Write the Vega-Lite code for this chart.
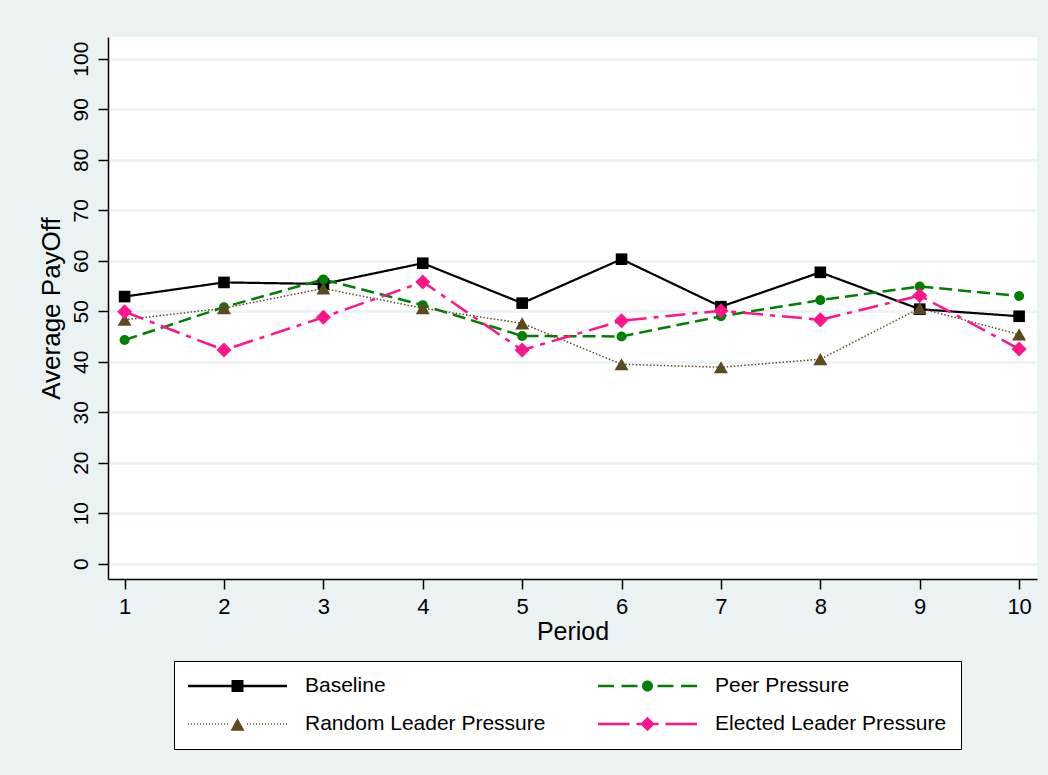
{
  "$schema": "https://vega.github.io/schema/vega-lite/v6.json",
  "width": 929,
  "height": 542,
  "autosize": {"type": "none"},
  "padding": {"left": 108, "top": 37, "right": 11, "bottom": 196},
  "background": "#eaf2f3",
  "config": {
    "font": "Liberation Sans, Arial, sans-serif",
    "view": {"fill": "white", "stroke": null}
  },
  "data": {
    "values": [
      {"period": 1, "series": "Baseline", "payoff": 52.9},
      {"period": 2, "series": "Baseline", "payoff": 55.7},
      {"period": 3, "series": "Baseline", "payoff": 55.4},
      {"period": 4, "series": "Baseline", "payoff": 59.5},
      {"period": 5, "series": "Baseline", "payoff": 51.6},
      {"period": 6, "series": "Baseline", "payoff": 60.3},
      {"period": 7, "series": "Baseline", "payoff": 50.9},
      {"period": 8, "series": "Baseline", "payoff": 57.7},
      {"period": 9, "series": "Baseline", "payoff": 50.4},
      {"period": 10, "series": "Baseline", "payoff": 49.0},
      {"period": 1, "series": "Peer Pressure", "payoff": 44.3},
      {"period": 2, "series": "Peer Pressure", "payoff": 50.8},
      {"period": 3, "series": "Peer Pressure", "payoff": 56.3},
      {"period": 4, "series": "Peer Pressure", "payoff": 51.2},
      {"period": 5, "series": "Peer Pressure", "payoff": 45.1},
      {"period": 6, "series": "Peer Pressure", "payoff": 45.0},
      {"period": 7, "series": "Peer Pressure", "payoff": 49.0},
      {"period": 8, "series": "Peer Pressure", "payoff": 52.2},
      {"period": 9, "series": "Peer Pressure", "payoff": 54.9},
      {"period": 10, "series": "Peer Pressure", "payoff": 53.0},
      {"period": 1, "series": "Random Leader Pressure", "payoff": 48.3},
      {"period": 2, "series": "Random Leader Pressure", "payoff": 50.6},
      {"period": 3, "series": "Random Leader Pressure", "payoff": 54.5},
      {"period": 4, "series": "Random Leader Pressure", "payoff": 50.6},
      {"period": 5, "series": "Random Leader Pressure", "payoff": 47.6},
      {"period": 6, "series": "Random Leader Pressure", "payoff": 39.5},
      {"period": 7, "series": "Random Leader Pressure", "payoff": 38.9},
      {"period": 8, "series": "Random Leader Pressure", "payoff": 40.5},
      {"period": 9, "series": "Random Leader Pressure", "payoff": 50.6},
      {"period": 10, "series": "Random Leader Pressure", "payoff": 45.4},
      {"period": 1, "series": "Elected Leader Pressure", "payoff": 49.9},
      {"period": 2, "series": "Elected Leader Pressure", "payoff": 42.3},
      {"period": 3, "series": "Elected Leader Pressure", "payoff": 48.8},
      {"period": 4, "series": "Elected Leader Pressure", "payoff": 55.8},
      {"period": 5, "series": "Elected Leader Pressure", "payoff": 42.3},
      {"period": 6, "series": "Elected Leader Pressure", "payoff": 48.1},
      {"period": 7, "series": "Elected Leader Pressure", "payoff": 50.1},
      {"period": 8, "series": "Elected Leader Pressure", "payoff": 48.3},
      {"period": 9, "series": "Elected Leader Pressure", "payoff": 53.1},
      {"period": 10, "series": "Elected Leader Pressure", "payoff": 42.5}
    ]
  },
  "encoding": {
    "x": {
      "field": "period",
      "type": "quantitative",
      "scale": {"domain": [0.833, 10.18], "nice": false, "zero": false},
      "axis": {
        "values": [1, 2, 3, 4, 5, 6, 7, 8, 9, 10],
        "format": "d",
        "title": "Period",
        "titleFontSize": 25,
        "titleFontWeight": "normal",
        "titleColor": "black",
        "titlePadding": 2,
        "labelFontSize": 22,
        "labelColor": "black",
        "labelPadding": 7,
        "labelFlush": false,
        "labelOverlap": false,
        "tickSize": 10,
        "tickColor": "black",
        "tickWidth": 1.5,
        "domainColor": "black",
        "domainWidth": 1.5,
        "grid": false
      }
    },
    "y": {
      "field": "payoff",
      "type": "quantitative",
      "scale": {"domain": [-3.03, 104.3], "nice": false, "zero": false},
      "axis": {
        "values": [0, 10, 20, 30, 40, 50, 60, 70, 80, 90, 100],
        "title": "Average PayOff",
        "titleFontSize": 26,
        "titleFontWeight": "normal",
        "titleColor": "black",
        "titlePadding": 6,
        "labelAngle": 270,
        "labelAlign": "center",
        "labelBaseline": "alphabetic",
        "labelFontSize": 21,
        "labelColor": "black",
        "labelPadding": 11,
        "labelFlush": false,
        "labelOverlap": false,
        "tickSize": 10,
        "tickColor": "black",
        "tickWidth": 1.5,
        "domainColor": "black",
        "domainWidth": 1.5,
        "grid": true,
        "gridColor": "#eaf2f3",
        "gridWidth": 2.5
      }
    },
    "color": {
      "field": "series",
      "type": "nominal",
      "scale": {
        "domain": ["Baseline", "Random Leader Pressure", "Peer Pressure", "Elected Leader Pressure"],
        "range": ["#000000", "#5c4a1e", "#008000", "#ff148c"]
      },
      "legend": {
        "title": null,
        "orient": "none",
        "legendX": 66,
        "legendY": 624,
        "columns": 2,
        "columnPadding": 52,
        "rowPadding": 16,
        "padding": 14,
        "clipHeight": 22,
        "strokeColor": "black",
        "fillColor": "white",
        "symbolSize": 9801,
        "symbolStrokeWidth": 0,
        "symbolOffset": 0,
        "labelOffset": 18,
        "labelFontSize": 21,
        "labelColor": "black",
        "labelLimit": 400,
        "encode": {
          "symbols": {
            "update": {
              "shape": {"signal": "datum.value === 'Baseline' ? 'M-1,-0.024H-0.121V0.024H-1ZM0.121,-0.024H1V0.024H0.121ZM-0.121,-0.121H0.121V0.121H-0.121Z' : datum.value === 'Peer Pressure' ? 'M-1,-0.026H-0.677V0.026H-1ZM-0.525,-0.026H-0.202V0.026H-0.525ZM0.202,-0.026H0.525V0.026H0.202ZM0.677,-0.026H1V0.026H0.677ZM-0.111,0A0.111,0.111 0 1,1 0.111,0A0.111,0.111 0 1,1 -0.111,0Z' : datum.value === 'Random Leader Pressure' ? 'M-1,-0.015h0.02v0.03h-0.02ZM-0.939,-0.015h0.02v0.03h-0.02ZM-0.879,-0.015h0.02v0.03h-0.02ZM-0.818,-0.015h0.02v0.03h-0.02ZM-0.758,-0.015h0.02v0.03h-0.02ZM-0.697,-0.015h0.02v0.03h-0.02ZM-0.636,-0.015h0.02v0.03h-0.02ZM-0.576,-0.015h0.02v0.03h-0.02ZM-0.515,-0.015h0.02v0.03h-0.02ZM-0.455,-0.015h0.02v0.03h-0.02ZM-0.394,-0.015h0.02v0.03h-0.02ZM-0.333,-0.015h0.02v0.03h-0.02ZM-0.273,-0.015h0.02v0.03h-0.02ZM-0.212,-0.015h0.02v0.03h-0.02ZM0.192,-0.015h0.02v0.03h-0.02ZM0.253,-0.015h0.02v0.03h-0.02ZM0.313,-0.015h0.02v0.03h-0.02ZM0.374,-0.015h0.02v0.03h-0.02ZM0.435,-0.015h0.02v0.03h-0.02ZM0.495,-0.015h0.02v0.03h-0.02ZM0.556,-0.015h0.02v0.03h-0.02ZM0.616,-0.015h0.02v0.03h-0.02ZM0.677,-0.015h0.02v0.03h-0.02ZM0.738,-0.015h0.02v0.03h-0.02ZM0.798,-0.015h0.02v0.03h-0.02ZM0.859,-0.015h0.02v0.03h-0.02ZM0.919,-0.015h0.02v0.03h-0.02ZM0.98,-0.015h0.02v0.03h-0.02ZM0,-0.121L0.141,0.135H-0.141Z' : 'M-1,-0.026H-0.364V0.026H-1ZM-0.222,-0.026H-0.133V0.026H-0.222ZM0.133,-0.026H0.222V0.026H0.133ZM0.364,-0.026H1V0.026H0.364ZM-0.147,0L0,-0.147L0.147,0L0,0.147Z'"},
              "fill": {"signal": "scale('color', datum.value)"},
              "stroke": {"value": "transparent"},
              "strokeWidth": {"value": 0},
              "strokeDash": {"value": []},
              "opacity": {"value": 1},
              "size": {"value": 9801}
            }
          }
        }
      }
    }
  },
  "layer": [
    {
      "mark": {"type": "line"},
      "encoding": {
        "strokeDash": {
          "field": "series",
          "type": "nominal",
          "scale": {
            "domain": ["Baseline", "Peer Pressure", "Random Leader Pressure", "Elected Leader Pressure"],
            "range": [[1, 0], [13, 6], [1.5, 2], [20, 7, 5, 7]]
          },
          "legend": null
        },
        "strokeWidth": {
          "field": "series",
          "type": "ordinal",
          "scale": {
            "type": "ordinal",
            "domain": ["Baseline", "Peer Pressure", "Random Leader Pressure", "Elected Leader Pressure"],
            "range": [2.2, 2.5, 1.5, 2.5]
          },
          "legend": null
        }
      }
    },
    {
      "mark": {"type": "point", "filled": true, "opacity": 1},
      "encoding": {
        "shape": {
          "field": "series",
          "type": "nominal",
          "scale": {
            "domain": ["Baseline", "Peer Pressure", "Random Leader Pressure", "Elected Leader Pressure"],
            "range": ["square", "circle", "triangle-up", "diamond"]
          },
          "legend": null
        },
        "size": {
          "field": "series",
          "type": "ordinal",
          "scale": {
            "type": "ordinal",
            "domain": ["Baseline", "Peer Pressure", "Random Leader Pressure", "Elected Leader Pressure"],
            "range": [135, 100, 196, 225]
          },
          "legend": null
        }
      }
    }
  ]
}
